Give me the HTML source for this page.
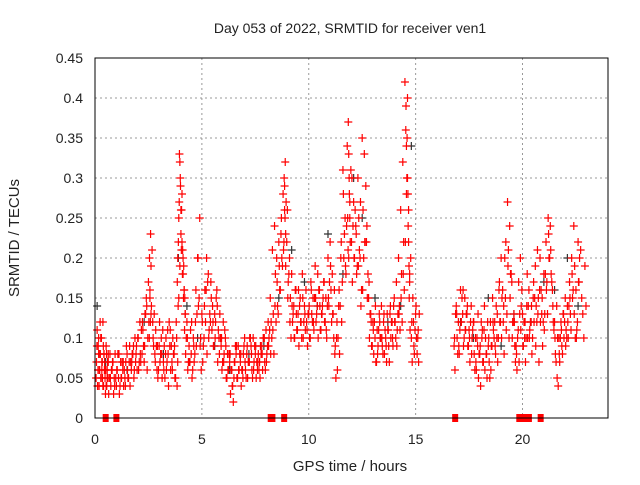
<!DOCTYPE html>
<html><head><meta charset="utf-8"><style>
body{margin:0;background:#fff;}
svg text{font-family:"Liberation Sans",sans-serif;font-size:14px;fill:#222;}
</style></head><body>
<svg id="chart" width="640" height="480" xmlns="http://www.w3.org/2000/svg">
<rect width="640" height="480" fill="#fff"/>
<text x="350" y="33" text-anchor="middle">Day 053 of 2022, SRMTID for receiver ven1</text>
<text x="350" y="471" text-anchor="middle" style="font-size:15px">GPS time / hours</text>
<text transform="translate(19,238) rotate(-90)" text-anchor="middle" style="font-size:15px">SRMTID / TECUs</text>
<g id="grid"></g><g id="ticks"></g><g id="marks"></g>
<rect x="95" y="58" width="513" height="360" fill="none" stroke="#000" stroke-width="1"/>
</svg>
<script>
const xTicks=[0,5,10,15,20];
const yTicks=[0,0.05,0.1,0.15,0.2,0.25,0.3,0.35,0.4,0.45];
const yLabels=["0","0.05","0.1","0.15","0.2","0.25","0.3","0.35","0.4","0.45"];
const redT=[0.05,0.1,0.15,0.2,0.25,0.3,0.35,0.4,0.45,0.5,0.55,0.6,0.7,0.8,0.9,1.0,1.1,1.2,1.3,1.4,1.5,1.6,1.7,1.8,1.9,2.0,2.1,2.2,2.3,2.4,2.5,2.55,2.6,2.7,2.8,2.9,3.0,3.1,3.2,3.3,3.4,3.5,3.6,3.7,3.8,3.85,3.9,3.95,4.0,4.05,4.1,4.15,4.2,4.3,4.4,4.5,4.6,4.7,4.8,4.9,5.0,5.1,5.2,5.3,5.4,5.5,5.6,5.7,5.8,5.9,6.0,6.1,6.2,6.3,6.4,6.5,6.6,6.7,6.8,6.9,7.0,7.1,7.2,7.3,7.4,7.5,7.6,7.7,7.8,7.9,8.0,8.1,8.2,8.3,8.4,8.5,8.6,8.7,8.8,8.85,8.9,9.0,9.1,9.2,9.3,9.4,9.5,9.6,9.7,9.8,9.9,10.0,10.1,10.2,10.3,10.4,10.5,10.6,10.7,10.8,10.9,11.0,11.1,11.2,11.3,11.4,11.5,11.6,11.7,11.8,11.85,11.9,12.0,12.1,12.2,12.3,12.4,12.5,12.6,12.7,12.8,12.9,13.0,13.1,13.2,13.3,13.4,13.5,13.6,13.7,13.8,13.9,14.0,14.1,14.2,14.3,14.4,14.5,14.55,14.6,14.65,14.7,14.8,14.9,15.0,15.1,16.8,16.9,17.0,17.1,17.2,17.3,17.4,17.5,17.6,17.7,17.8,17.9,18.0,18.1,18.2,18.3,18.4,18.5,18.6,18.7,18.8,18.9,19.0,19.1,19.2,19.3,19.4,19.5,19.6,19.7,19.8,19.9,20.0,20.1,20.2,20.3,20.4,20.5,20.6,20.7,20.8,20.9,21.0,21.1,21.2,21.3,21.4,21.5,21.6,21.7,21.8,21.9,22.0,22.1,22.2,22.3,22.4,22.5,22.6,22.7,22.8,22.9];
const redA=[0.05,0.11,0.09,0.06,0.08,0.1,0.05,0.04,0.07,0.06,0.04,0.05,0.08,0.06,0.05,0.04,0.05,0.07,0.06,0.05,0.08,0.07,0.06,0.09,0.07,0.1,0.12,0.08,0.07,0.15,0.17,0.2,0.23,0.12,0.08,0.06,0.09,0.1,0.07,0.08,0.11,0.09,0.07,0.08,0.12,0.17,0.22,0.33,0.29,0.26,0.21,0.19,0.15,0.12,0.09,0.08,0.1,0.12,0.2,0.25,0.13,0.1,0.16,0.18,0.12,0.14,0.13,0.16,0.1,0.09,0.12,0.1,0.08,0.07,0.06,0.05,0.08,0.09,0.07,0.06,0.1,0.08,0.07,0.09,0.1,0.08,0.06,0.07,0.09,0.1,0.11,0.12,0.15,0.21,0.24,0.2,0.22,0.23,0.28,0.3,0.32,0.26,0.2,0.18,0.14,0.16,0.13,0.15,0.18,0.14,0.12,0.13,0.17,0.15,0.19,0.14,0.16,0.13,0.17,0.15,0.2,0.22,0.18,0.16,0.1,0.14,0.2,0.31,0.25,0.34,0.37,0.28,0.22,0.27,0.24,0.3,0.2,0.35,0.33,0.22,0.15,0.13,0.12,0.1,0.11,0.13,0.14,0.12,0.1,0.11,0.13,0.12,0.15,0.17,0.2,0.26,0.32,0.42,0.39,0.35,0.24,0.15,0.1,0.12,0.13,0.1,0.09,0.14,0.12,0.16,0.13,0.15,0.13,0.11,0.14,0.12,0.1,0.09,0.08,0.1,0.11,0.08,0.09,0.12,0.15,0.12,0.1,0.16,0.2,0.12,0.15,0.27,0.24,0.17,0.13,0.09,0.11,0.2,0.13,0.1,0.14,0.16,0.12,0.15,0.19,0.21,0.16,0.13,0.18,0.22,0.25,0.24,0.16,0.12,0.14,0.1,0.12,0.13,0.15,0.14,0.17,0.2,0.24,0.16,0.22];
const redB=[0.09,0.06,0.04,0.12,0.05,0.07,0.09,0.06,0.03,0.08,0.07,0.03,0.04,0.07,0.08,0.06,0.03,0.05,0.04,0.07,0.05,0.04,0.08,0.06,0.09,0.06,0.07,0.11,0.13,0.06,0.1,0.12,0.14,0.09,0.11,0.05,0.07,0.05,0.09,0.06,0.04,0.06,0.1,0.05,0.04,0.14,0.27,0.3,0.21,0.18,0.15,0.11,0.08,0.06,0.07,0.05,0.07,0.09,0.14,0.1,0.07,0.16,0.08,0.11,0.15,0.09,0.12,0.07,0.13,0.06,0.08,0.05,0.06,0.03,0.04,0.07,0.05,0.06,0.04,0.08,0.06,0.05,0.1,0.06,0.07,0.05,0.08,0.09,0.06,0.07,0.08,0.1,0.12,0.13,0.18,0.14,0.16,0.2,0.22,0.25,0.27,0.17,0.15,0.12,0.1,0.11,0.09,0.12,0.1,0.11,0.09,0.1,0.13,0.11,0.12,0.1,0.11,0.14,0.12,0.1,0.14,0.16,0.13,0.09,0.06,0.08,0.12,0.2,0.18,0.21,0.3,0.22,0.17,0.2,0.18,0.25,0.14,0.26,0.22,0.15,0.1,0.09,0.08,0.07,0.09,0.1,0.09,0.08,0.07,0.09,0.1,0.09,0.12,0.11,0.14,0.18,0.22,0.36,0.3,0.28,0.19,0.11,0.07,0.08,0.1,0.07,0.06,0.1,0.08,0.12,0.09,0.11,0.09,0.07,0.1,0.08,0.06,0.05,0.04,0.07,0.06,0.05,0.07,0.09,0.11,0.08,0.07,0.12,0.15,0.08,0.11,0.21,0.18,0.12,0.09,0.06,0.07,0.14,0.09,0.07,0.1,0.11,0.08,0.12,0.14,0.15,0.12,0.09,0.13,0.17,0.2,0.18,0.12,0.08,0.1,0.07,0.09,0.1,0.11,0.1,0.13,0.15,0.19,0.11,0.17];
const redC=[0.07,0.04,0.1,0.08,0.05,0.06,0.12,0.08,0.05,0.04,0.06,0.08,
0.05,0.07,0.04,0.06,0.08,0.05,0.07,0.04,0.06,0.09,0.07,0.05,0.08,0.1,0.08,0.12,0.09,0.14,0.12,
0.16,0.19,
0.1,0.07,0.09,0.12,0.08,0.06,0.1,0.08,0.11,0.06,0.09,0.1,
0.2,0.25,0.32,0.26,0.22,0.18,0.16,0.13,
0.1,0.07,0.12,0.09,0.16,0.2,0.09,0.12,0.14,0.2,0.1,0.17,0.12,0.1,0.14,0.08,0.1,0.07,0.09,0.06,0.08,0.04,0.07,0.09,0.06,0.08,0.05,0.07,0.09,0.07,0.08,0.06,0.09,0.07,0.05,0.08,0.1,0.07,0.09,0.08,0.11,0.14,0.17,0.19,0.25,0.21,
0.29,
0.19,0.15,0.12,0.14,0.1,0.13,0.16,0.12,0.15,0.13,0.11,0.14,0.16,0.12,0.15,0.18,0.14,0.13,0.17,0.11,0.15,0.19,0.13,0.08,0.12,0.16,0.22,0.28,0.19,0.25,
0.33,
0.25,0.3,0.2,0.23,0.19,0.27,0.16,0.22,0.24,0.17,0.12,0.11,0.14,0.08,0.12,0.1,0.13,0.09,0.11,0.14,0.1,0.12,0.09,0.13,0.15,0.18,0.22,
0.34,0.3,0.22,0.18,
0.12,0.09,0.14,0.11,
0.1,0.13,0.09,0.12,0.16,0.11,0.14,0.1,0.08,0.12,0.07,0.13,0.09,0.11,0.14,0.08,0.1,0.06,0.12,0.09,0.13,0.17,0.1,0.14,0.22,0.19,0.15,0.1,0.12,0.08,0.17,0.11,0.09,0.12,0.18,0.1,0.14,0.17,0.09,0.13,0.2,0.15,0.11,0.16,0.23,0.21,0.14,0.1,0.05,0.08,0.11,0.13,0.09,0.12,0.15,0.18,0.13,0.1,0.17,0.21,0.13,0.19];
const redD=[0.04,0.08,0.06,0.1,0.07,0.04,0.08,0.06,0.09,0.05,0.07,0.05,
0.06,0.03,0.05,0.08,0.04,0.07,0.06,0.09,0.05,0.07,0.08,0.1,0.06,0.07,0.11,0.09,0.13,0.1,0.15,
0.13,0.21,
0.13,0.09,0.06,0.08,0.11,0.05,0.07,0.12,0.09,0.08,0.05,0.07,
0.15,0.19,0.23,0.28,0.2,0.16,0.13,0.1,
0.07,0.11,0.06,0.08,0.13,0.15,0.06,0.09,0.12,0.17,0.13,0.11,0.09,0.15,0.11,0.1,0.07,0.11,0.05,0.08,0.06,0.02,0.09,0.05,0.08,0.06,0.09,0.05,0.07,0.1,0.05,0.09,0.07,0.06,0.08,0.1,0.06,0.09,0.11,0.1,0.08,0.12,0.13,0.16,0.19,0.26,
0.23,
0.22,0.18,0.1,0.13,0.16,0.11,0.14,0.1,0.12,0.16,0.13,0.1,0.12,0.15,0.13,0.16,0.11,0.15,0.12,0.14,0.17,0.12,0.1,0.05,0.1,0.14,0.17,0.23,0.24,0.2,
0.27,
0.31,0.24,0.26,0.19,0.21,0.16,0.2,0.29,0.18,0.13,0.09,0.12,0.07,0.11,0.1,0.08,0.11,0.13,0.07,0.12,0.14,0.1,0.13,0.11,0.12,0.16,0.28,
0.4,0.26,0.17,0.2,
0.15,0.11,0.08,0.13,
0.13,0.08,0.11,0.15,0.1,0.13,0.09,0.12,0.11,0.06,0.1,0.08,0.12,0.07,0.1,0.12,0.05,0.09,0.1,0.14,0.1,0.12,0.16,0.2,0.13,0.1,0.18,0.12,0.07,0.1,0.13,0.16,0.12,0.1,0.14,0.12,0.1,0.15,0.12,0.07,0.16,0.12,0.18,0.13,0.2,0.17,0.11,0.07,0.04,0.1,0.08,0.12,0.1,0.14,0.11,0.16,0.1,0.12,0.2,0.15,0.1,0.14];
const blackT=[0.1,0.5,1.5,2.3,3.2,3.9,4.3,4.8,5.6,6.3,7.2,7.9,8.6,9.2,9.8,10.4,10.9,11.6,12.1,12.5,13.1,13.7,14.3,14.8,17.1,17.7,18.4,19.0,19.6,20.4,21.0,21.5,22.1,22.6];
const blackV=[0.14,0.07,0.06,0.12,0.08,0.2,0.14,0.1,0.09,0.06,0.08,0.09,0.15,0.21,0.17,0.14,0.23,0.18,0.3,0.25,0.15,0.12,0.14,0.34,0.12,0.1,0.15,0.09,0.13,0.12,0.17,0.16,0.2,0.14];
const zeroT=[0.5,1.0,8.22,8.3,8.85,16.85,19.85,20.1,20.3,20.85];
const X0=95,X1=608,Y0=418,Y1=58,XMAX=24,YMAX=0.45;
const sx=t=>X0+t/XMAX*(X1-X0), sy=v=>Y0-v/YMAX*(Y0-Y1);
const NS="http://www.w3.org/2000/svg";
const mk=(tag,at,p)=>{const e=document.createElementNS(NS,tag);for(const k in at)e.setAttribute(k,at[k]);p.appendChild(e);return e;};
const grid=document.getElementById('grid'),ticks=document.getElementById('ticks'),marks=document.getElementById('marks');
xTicks.forEach(t=>{const x=sx(t);
 if(t>0){const g=mk('line',{x1:x,x2:x,y1:Y1,y2:Y0,stroke:'#999','stroke-dasharray':'2,3'},grid);
 
 }
 const l=mk('text',{x:x,y:Y0+26,'text-anchor':'middle'},ticks);l.textContent=t;
 
 });
yTicks.forEach((v,i)=>{const y=sy(v);
 if(v>0){const g=mk('line',{x1:X0,x2:X1,y1:y,y2:y,stroke:'#999','stroke-dasharray':'2,3'},grid);
 
 }
 const l=mk('text',{x:X0-12,y:y+5,'text-anchor':'end'},ticks);l.textContent=yLabels[i];
 
 });
function plus(t,v,c,name){const x=sx(t),y=sy(v);
 const p=mk('path',{d:`M${x-4},${y}H${x+4}M${x},${y-4}V${y+4}`,stroke:c,'stroke-width':1.2,fill:'none'},marks);
 
 }
blackT.forEach((t,i)=>plus(t,blackV[i],'#333','black-point'));
redT.forEach((t,i)=>{
 plus(t,redA[i],'#f00','red-point');
 plus(t+0.04,redB[i],'#f00','red-point');
 if(redC[i]!==undefined)plus(t+0.02,redC[i],'#f00','red-point');
 if(redD[i]!==undefined)plus(t+0.07,redD[i],'#f00','red-point');});
zeroT.forEach(t=>{const r=mk('rect',{x:sx(t)-3,y:Y0-4,width:6,height:8,fill:'#f00'},marks);
 
 });
</script>
</body></html>
